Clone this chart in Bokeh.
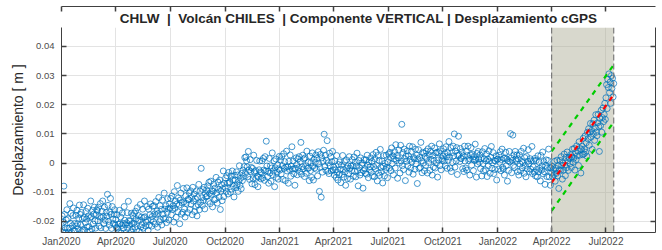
import pandas as pd
from bokeh.plotting import figure
from bokeh.models import (Range1d, LinearAxis, DatetimeAxis, MonthsTicker, FixedTicker,
                          DatetimeTickFormatter, CustomJSTickFormatter, BoxAnnotation, Span, Title)
from bokeh.embed import file_html
from bokeh.resources import INLINE

# ---------------- data (vertical displacement, mm, one value per day) ----------------
title_text = "CHLW\u00a0 |\u00a0 Volcán CHILES\u00a0 | Componente VERTICAL | Desplazamiento cGPS"
y_label = "Desplazamiento [ m ]"
y_ticks = [-0.02, -0.01, 0, 0.01, 0.02, 0.03, 0.04]

months = {
    "2020-01": [-21.4,-18.1,-23.7,-20.3,-7.9,-17.6,-22.2,-23.8,-19.5,-16.0,-22.4,-19.1,-23.7,-22.3,-13.9,-20.6,-17.2,-23.8,-21.5,-18.0,-15.4,-23.1,-20.7,-23.3,-17.9,-21.6,-16.2,-20.8,-22.5,-19.0,-14.4],
    "2020-02": [-17.6,-21.2,-16.9,-23.5,-19.1,-22.8,-14.3,-18.7,-23.0,-20.4,-16.6,-19.2,-21.9,-15.5,-18.1,-21.8,-23.3,-18.7,-13.0,-18.4,-22.6,-16.2,-20.9,-17.5,-15.1,-19.8,-22.3,-17.7,-16.0],
    "2020-03": [-16.3,-19.8,-15.1,-21.6,-18.4,-13.9,-22.2,-18.7,-16.5,-13.0,-18.3,-20.8,-15.1,-19.6,-22.4,-16.9,-18.2,-10.7,-14.5,-20.0,-21.3,-16.8,-12.1,-17.6,-22.4,-14.9,-19.2,-20.7,-17.5,-16.0,-21.3],
    "2020-04": [-19.4,-22.1,-17.7,-22.3,-20.9,-23.6,-16.2,-20.8,-18.5,-24.0,-21.4,-17.1,-20.7,-22.3,-14.9,-19.6,-21.2,-23.8,-20.5,-17.0,-22.4,-13.1,-19.7,-21.3,-19.9,-23.6,-17.2,-20.8,-22.5,-18.0],
    "2020-05": [-20.6,-17.2,-21.9,-16.5,-19.1,-22.8,-15.3,-19.7,-18.0,-23.4,-19.6,-14.2,-21.9,-18.5,-21.1,-15.8,-22.3,-18.7,-13.0,-18.4,-21.6,-20.2,-14.9,-19.5,-23.1,-15.8,-21.3,-17.7,-14.0,-19.4,-21.6],
    "2020-06": [-18.3,-14.8,-20.1,-14.6,-17.4,-20.9,-13.2,-17.7,-16.5,-22.0,-17.3,-11.8,-20.1,-14.6,-19.4,-15.9,-21.2,-12.7,-17.5,-19.0,-10.3,-15.8,-19.1,-14.6,-20.4,-16.9,-12.2,-15.7,-19.5,-14.0],
    "2020-07": [-15.4,-12.1,-17.7,-11.3,-15.9,-14.6,-20.2,-9.8,-15.5,-13.0,-18.6,-14.1,-7.7,-16.7,-11.9,-14.4,-20.8,-12.7,-10.3,-17.5,-13.6,-16.9,-8.7,-13.3,-15.8,-18.5,-11.2,-13.8,-8.5,-17.0,-12.4],
    "2020-08": [-12.6,-10.2,-15.9,-9.5,-14.1,-11.8,-17.7,-8.3,-13.0,-10.6,-16.6,-12.2,-14.9,-9.5,-18.1,-11.8,-14.3,-7.3,-16.0,-9.6,-13.4,-1.8,-11.9,-14.5,-9.1,-12.8,-8.3,-15.7,-10.4,-11.6,-9.2],
    "2020-09": [-11.3,-7.8,-13.1,-6.6,-10.4,-13.9,-6.2,-10.7,-9.5,-15.0,-9.7,-7.2,-12.6,-8.6,-12.4,-4.9,-10.2,-13.7,-6.5,-9.0,-11.7,-5.8,-15.9,-9.6,-7.4,-12.9,-8.8,-2.7,-11.5,-7.0],
    "2020-10": [-8.4,-5.1,-9.7,-4.3,-6.9,-10.6,-3.2,-6.8,-6.5,-10.0,-4.4,-8.9,-2.7,-5.7,-7.9,-11.6,-4.2,-5.8,-8.5,-3.0,-7.4,-4.1,-9.7,-6.3,-0.9,-7.6,-5.2,-8.8,-3.5,-6.0,-2.4],
    "2020-11": [-4.6,-1.2,1.9,-3.5,2.1,0.8,-1.3,-4.7,4.0,-2.4,-5.6,1.2,-2.9,-1.5,-7.1,-1.8,-5.3,2.7,-3.0,-7.4,-2.6,-5.2,0.9,-4.5,-8.1,-4.8,-2.3,0.7,-3.0,-5.4],
    "2020-12": [-3.3,0.8,-5.1,1.6,-2.4,-5.9,2.2,-2.7,7.5,-1.0,-4.7,-2.8,-6.9,1.6,-3.4,-0.9,-6.2,-1.7,3.5,-4.0,-2.7,0.8,-8.1,-1.6,1.4,-4.9,-3.2,-0.7,-5.5,-2.0,2.3],
    "2021-01": [-2.4,1.1,-3.7,2.3,-0.9,-5.6,3.2,-1.8,0.5,-6.0,-1.4,4.1,-2.7,-1.3,-6.9,0.6,-2.2,2.8,-4.5,-1.0,5.6,-2.1,0.7,-3.7,-1.9,-7.6,-1.8,1.8,-0.5,-4.0,1.4],
    "2021-02": [-1.6,2.2,-2.9,0.5,7.1,-3.8,-1.3,2.7,-2.0,1.4,-4.6,1.8,-0.9,-3.5,4.1,-1.8,0.3,-1.7,-6.0,2.4,-2.6,0.2,-4.9,3.5,-1.1,-5.8,1.3,-1.7],
    "2021-03": [0.3,2.8,-2.1,1.6,-4.4,3.9,-0.2,-9.7,-1.5,3.0,-11.7,1.8,-3.1,0.6,4.4,9.9,-1.2,2.7,-2.5,1.0,7.7,-2.8,0.1,-3.6,3.4,-0.9,2.2,-2.7,0.5,4.0,-2.3],
    "2021-04": [-1.4,-4.1,0.7,-2.3,-4.9,2.6,-3.2,-5.8,-0.5,-4.0,0.4,-2.1,-6.7,-0.7,-3.9,2.6,-2.2,-4.8,0.5,-3.0,-7.6,1.1,-1.7,-5.3,-0.9,-3.6,2.2,-1.8,-5.5,-1.0],
    "2021-05": [-2.6,1.2,-0.9,-4.5,2.1,-2.8,0.3,-4.7,-1.0,3.4,-2.6,-7.8,0.9,-1.5,-4.1,1.8,-3.3,-0.7,0.0,-8.6,-2.6,1.2,-1.9,-3.5,1.1,-3.8,2.7,-0.7,-5.0,0.4,-2.2],
    "2021-06": [-1.3,1.8,-3.1,0.6,-4.4,2.9,-1.2,-4.7,1.5,-2.0,3.7,-0.8,-6.1,2.6,-3.4,0.9,-4.2,4.7,-1.5,-3.0,0.7,-6.8,-1.1,2.6,-4.4,-0.1,-2.2,2.7,-1.5,-5.0],
    "2021-07": [0.4,3.1,-1.7,3.7,1.9,-2.6,5.2,-0.2,2.5,-4.0,1.4,3.9,-1.7,6.3,0.9,2.6,-5.2,1.8,4.5,0.0,-3.4,6.1,0.7,13.3,-0.9,3.6,-2.2,4.8,1.5,-6.0,2.4],
    "2021-08": [0.6,4.2,-0.9,2.5,-3.1,5.8,1.3,-1.7,4.0,0.4,5.6,-3.8,1.9,1.5,-2.1,4.8,-0.3,2.7,-7.0,1.4,4.6,-1.8,1.9,-1.5,7.1,0.8,-3.3,3.7,0.0,3.4,-2.6],
    "2021-09": [2.3,-0.8,4.1,1.6,-3.4,4.9,0.2,2.7,-2.5,4.0,1.3,5.8,-4.1,2.6,-1.4,0.9,5.2,-1.7,3.5,0.0,3.7,-4.8,1.1,3.6,6.6,-0.9,4.2,-2.3,1.5,1.0],
    "2021-10": [2.4,4.9,0.7,3.3,-0.9,5.6,2.2,-1.8,3.5,1.0,7.4,2.1,-1.7,5.3,-2.9,3.6,0.2,5.8,2.5,10.0,-1.4,4.1,0.7,5.3,-3.9,2.6,9.2,2.8,0.5,5.0,1.6],
    "2021-11": [1.6,3.8,-1.9,2.5,-2.9,5.8,0.7,-1.7,4.0,-2.4,2.6,5.8,0.9,1.5,-4.1,2.8,5.3,-0.7,3.0,1.4,-2.6,2.2,0.9,6.5,1.1,-4.8,3.3,-0.3,4.0,1.4],
    "2021-12": [0.3,2.8,-1.9,1.6,-4.4,3.9,-0.2,-2.7,1.5,5.0,-2.3,0.8,3.1,-4.6,1.4,-0.9,4.2,0.7,-3.5,2.0,5.7,-1.8,0.1,3.6,-3.6,0.9,-2.2,0.7,2.5,-5.8,1.3],
    "2022-01": [1.4,-2.1,2.7,0.3,3.9,-2.6,1.2,4.8,-1.5,-2.0,1.6,-4.1,1.7,3.7,-0.9,1.4,-6.2,0.8,-2.5,4.0,0.4,10.1,1.7,-3.3,0.9,9.6,-0.8,2.8,-1.5,4.0,1.4],
    "2022-02": [0.6,2.8,-2.9,1.5,-4.1,2.8,-0.3,-2.7,4.0,0.6,-1.6,0.2,5.1,-3.5,1.9,-0.8,-4.7,2.3,-2.0,0.6,4.6,-0.2,-2.9,1.5,-2.1,0.8,5.7,-3.6],
    "2022-03": [-1.3,0.8,-3.1,1.6,-4.4,0.9,-2.2,-4.7,2.5,-3.0,0.3,-1.8,-6.1,2.6,-2.4,-0.9,3.8,-3.7,0.5,-3.0,-7.3,-0.8,1.1,-4.6,-1.6,0.9,4.8,-4.7,-1.5,-7.6,-1.7],
    "2022-04": [-3.4,-1.1,-4.7,-2.3,-3.9,0.6,-6.2,-1.8,-3.5,1.0,-4.4,-0.9,-8.7,-2.3,0.9,-2.6,2.2,-0.8,-5.5,0.0,-2.4,3.1,-0.7,-4.3,1.9,-1.6,3.8,0.8,-2.5,2.0],
    "2022-05": [1.6,-0.2,2.9,-1.5,2.1,4.8,0.3,1.7,5.0,-2.4,3.6,1.2,5.9,2.5,4.1,-0.8,7.3,2.7,5.0,-3.4,4.6,5.8,2.9,8.5,3.1,4.8,9.3,3.7,7.0,2.4,10.6],
    "2022-06": [8.3,11.8,6.1,10.6,13.6,8.9,11.2,4.7,13.5,10.0,14.7,7.8,12.1,16.6,10.6,9.4,13.8,16.7,12.5,4.0,15.3,12.8,18.1,10.6,15.6,18.9,14.2,16.7,20.5,15.0],
    "2022-07": [22.4,26.9,18.7,28.7,25.9,30.6,24.2,27.8,20.5,30.0,25.6,29.1,22.7,27.3],
}

# analysis window and linear fit with its band
window_start = "2022-04-01"
window_end = "2022-07-14"
fit_dates = ["2022-04-01", "2022-07-13"]
fit_vals = [-0.0067, 0.0232]
upper_vals = [0.0040, 0.0334]
lower_vals = [-0.0164, 0.0138]

x_start = "2020-01-01"
x_end = "2022-09-22"
y_start, y_end = -0.0238, 0.0465

# ---------------- build ----------------
dates, vals = [], []
for m, lst in months.items():
    d = pd.date_range(m + "-01", periods=len(lst), freq="D")
    dates.extend(d)
    vals.extend([v / 1000.0 for v in lst])

def ms(s):
    return pd.Timestamp(s).value / 1e6

AX = "#404040"
TXT = "#4d4d4d"
FONT = "Liberation Sans"

p = figure(width=662, height=250, output_backend="svg", toolbar_location=None,
           x_axis_type="datetime",
           x_range=Range1d(pd.Timestamp(x_start), pd.Timestamp(x_end)),
           y_range=Range1d(y_start, y_end),
           min_border_left=61, min_border_right=7, min_border_top=27, min_border_bottom=18,
           background_fill_color="white", border_fill_color="white")
p.outline_line_color = None

p.add_layout(Title(text=title_text, align="center", text_font_size="13.5px",
                   text_font=FONT, text_font_style="bold", text_color="#262626",
                   standoff=4), "above")

xt = MonthsTicker(months=[0, 3, 6, 9])
yt = FixedTicker(ticks=y_ticks)
yfmt = CustomJSTickFormatter(code="return tick == 0 ? '0' : tick.toFixed(2);")
xfmt = DatetimeTickFormatter(months="%b%Y", days="%b%Y", years="%b%Y")
blank = CustomJSTickFormatter(code="return '';")

p.xaxis.ticker = xt
p.xaxis.formatter = xfmt
p.yaxis.ticker = yt
p.yaxis.formatter = yfmt
p.xgrid.ticker = xt
p.ygrid.ticker = yt
p.grid.grid_line_color = "#e3e3e3"
p.grid.grid_line_width = 1

p.yaxis.axis_label = y_label
p.yaxis.axis_label_text_font = FONT
p.yaxis.axis_label_text_font_size = "14px"
p.yaxis.axis_label_text_font_style = "normal"
p.yaxis.axis_label_text_color = "#262626"
p.yaxis.axis_label_standoff = 4

for ax in [p.xaxis[0], p.yaxis[0]]:
    ax.major_tick_in = 5
    ax.major_tick_out = 0
    ax.minor_tick_in = 0
    ax.minor_tick_out = 0
    ax.axis_line_color = AX
    ax.major_tick_line_color = AX
    ax.major_tick_line_width = 1.5
    ax.major_label_text_font = FONT
    ax.major_label_text_color = TXT
p.xaxis.major_label_text_font_size = "10px"
p.yaxis.major_label_text_font_size = "9.5px"
p.xaxis.major_label_standoff = 3
p.yaxis.major_label_standoff = 7

top = DatetimeAxis(ticker=xt, formatter=blank)
right = LinearAxis(ticker=yt, formatter=blank)
for ax in [top, right]:
    ax.major_tick_in = 5
    ax.major_tick_out = 0
    ax.minor_tick_in = 0
    ax.minor_tick_out = 0
    ax.axis_line_color = AX
    ax.major_tick_line_color = AX
    ax.major_tick_line_width = 1.5
    ax.major_label_text_font_size = "1px"
    ax.major_label_standoff = 0
p.add_layout(top, "above")
p.add_layout(right, "right")

box = BoxAnnotation(left=ms(window_start), right=ms(window_end),
                    fill_color="#a8a890", fill_alpha=0.45, line_color=None, level="underlay")
p.add_layout(box)

p.scatter(dates, vals, marker="circle", size=6, fill_color=None,
          line_color="#0072BD", line_width=1, line_alpha=0.72)

for loc in [window_start, window_end]:
    p.add_layout(Span(location=ms(loc), dimension="height", line_color="#7a7a7a",
                      line_width=1.2, line_dash="6 3"))

fd = [pd.Timestamp(d) for d in fit_dates]
p.line(fd, upper_vals, line_color="#00cc00", line_width=2.2, line_dash="5 5")
p.line(fd, lower_vals, line_color="#00cc00", line_width=2.2, line_dash="5 5")
p.line(fd, fit_vals, line_color="#ff0000", line_width=2.2, line_dash="5 5")

open("out.html", "w").write(file_html(p, INLINE, title="CHLW"))
